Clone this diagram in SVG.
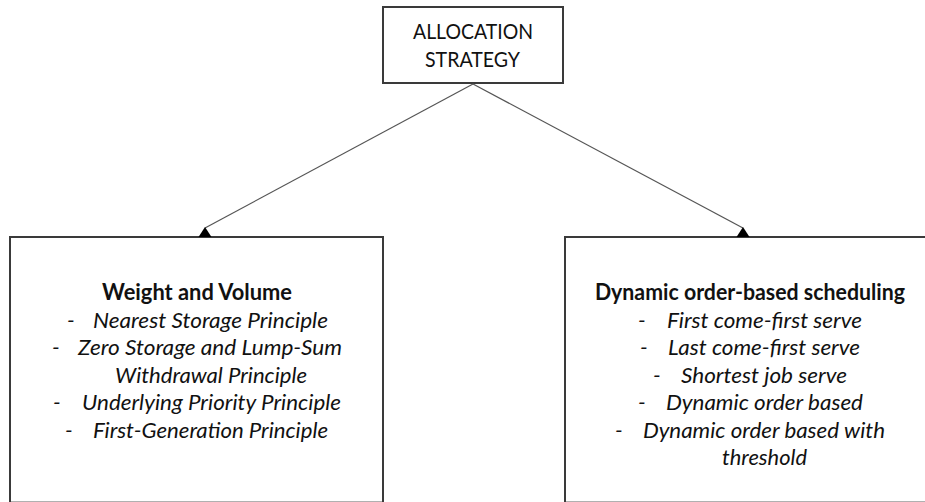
<svg xmlns="http://www.w3.org/2000/svg" width="925" height="502" viewBox="0 0 925 502">
<defs>
<style>
.box{fill:#fff;stroke:#3a3a3a;stroke-width:2}
.conn{stroke:#555;stroke-width:1.2;fill:none}
.head{fill:#000;stroke:none}
text{font-family:Lato,"Open Sans","Liberation Sans",sans-serif;fill:#111;font-size:22px}
.top{font-size:21px}
.hd{font-weight:bold}
.it{font-style:italic}
</style>
<path id="arrowhead" class="head" d="M-6.5,10 L0,0 L6.5,10 Z"/>
</defs>
<rect width="925" height="502" fill="#fff"/>
<g id="node-allocation">
<rect class="box" x="383" y="7" width="180" height="76"/>
<text class="top" x="413" y="39" textLength="120" lengthAdjust="spacingAndGlyphs">ALLOCATION</text>
<text class="top" x="425" y="67" textLength="95" lengthAdjust="spacingAndGlyphs">STRATEGY</text>
</g>
<g id="node-weight">
<rect class="box" x="10" y="237" width="373" height="265.6"/>
<text class="hd" x="102" y="300" textLength="190" lengthAdjust="spacingAndGlyphs">Weight and Volume</text>
<text class="it" x="67" y="327.5">-</text>
<text class="it" x="93" y="327.5" textLength="235" lengthAdjust="spacingAndGlyphs">Nearest Storage Principle</text>
<text class="it" x="52" y="355">-</text>
<text class="it" x="78" y="355" textLength="264" lengthAdjust="spacingAndGlyphs">Zero Storage and Lump-Sum</text>
<text class="it" x="115" y="382.5" textLength="192" lengthAdjust="spacingAndGlyphs">Withdrawal Principle</text>
<text class="it" x="53" y="410">-</text>
<text class="it" x="82" y="410" textLength="259" lengthAdjust="spacingAndGlyphs">Underlying Priority Principle</text>
<text class="it" x="65" y="437.5">-</text>
<text class="it" x="93" y="437.5" textLength="235" lengthAdjust="spacingAndGlyphs">First-Generation Principle</text>
</g>
<g id="node-dynamic">
<rect class="box" x="565" y="237" width="380" height="265.6"/>
<text class="hd" x="595" y="300" textLength="310" lengthAdjust="spacingAndGlyphs">Dynamic order-based scheduling</text>
<text class="it" x="638" y="327.5">-</text>
<text class="it" x="667" y="327.5" textLength="195" lengthAdjust="spacingAndGlyphs">First come-first serve</text>
<text class="it" x="640" y="355">-</text>
<text class="it" x="668" y="355" textLength="192" lengthAdjust="spacingAndGlyphs">Last come-first serve</text>
<text class="it" x="653" y="382.5">-</text>
<text class="it" x="681" y="382.5" textLength="166" lengthAdjust="spacingAndGlyphs">Shortest job serve</text>
<text class="it" x="638" y="410">-</text>
<text class="it" x="666" y="410" textLength="197" lengthAdjust="spacingAndGlyphs">Dynamic order based</text>
<text class="it" x="615" y="437.5">-</text>
<text class="it" x="643" y="437.5" textLength="242" lengthAdjust="spacingAndGlyphs">Dynamic order based with</text>
<text class="it" x="722" y="465" textLength="85" lengthAdjust="spacingAndGlyphs">threshold</text>
</g>
<g id="connectors">
<line class="conn" x1="473" y1="84" x2="205" y2="228"/>
<line class="conn" x1="473" y1="84" x2="743" y2="228"/>
<use href="#arrowhead" x="205" y="227"/>
<use href="#arrowhead" x="743" y="227"/>
</g>
</svg>
